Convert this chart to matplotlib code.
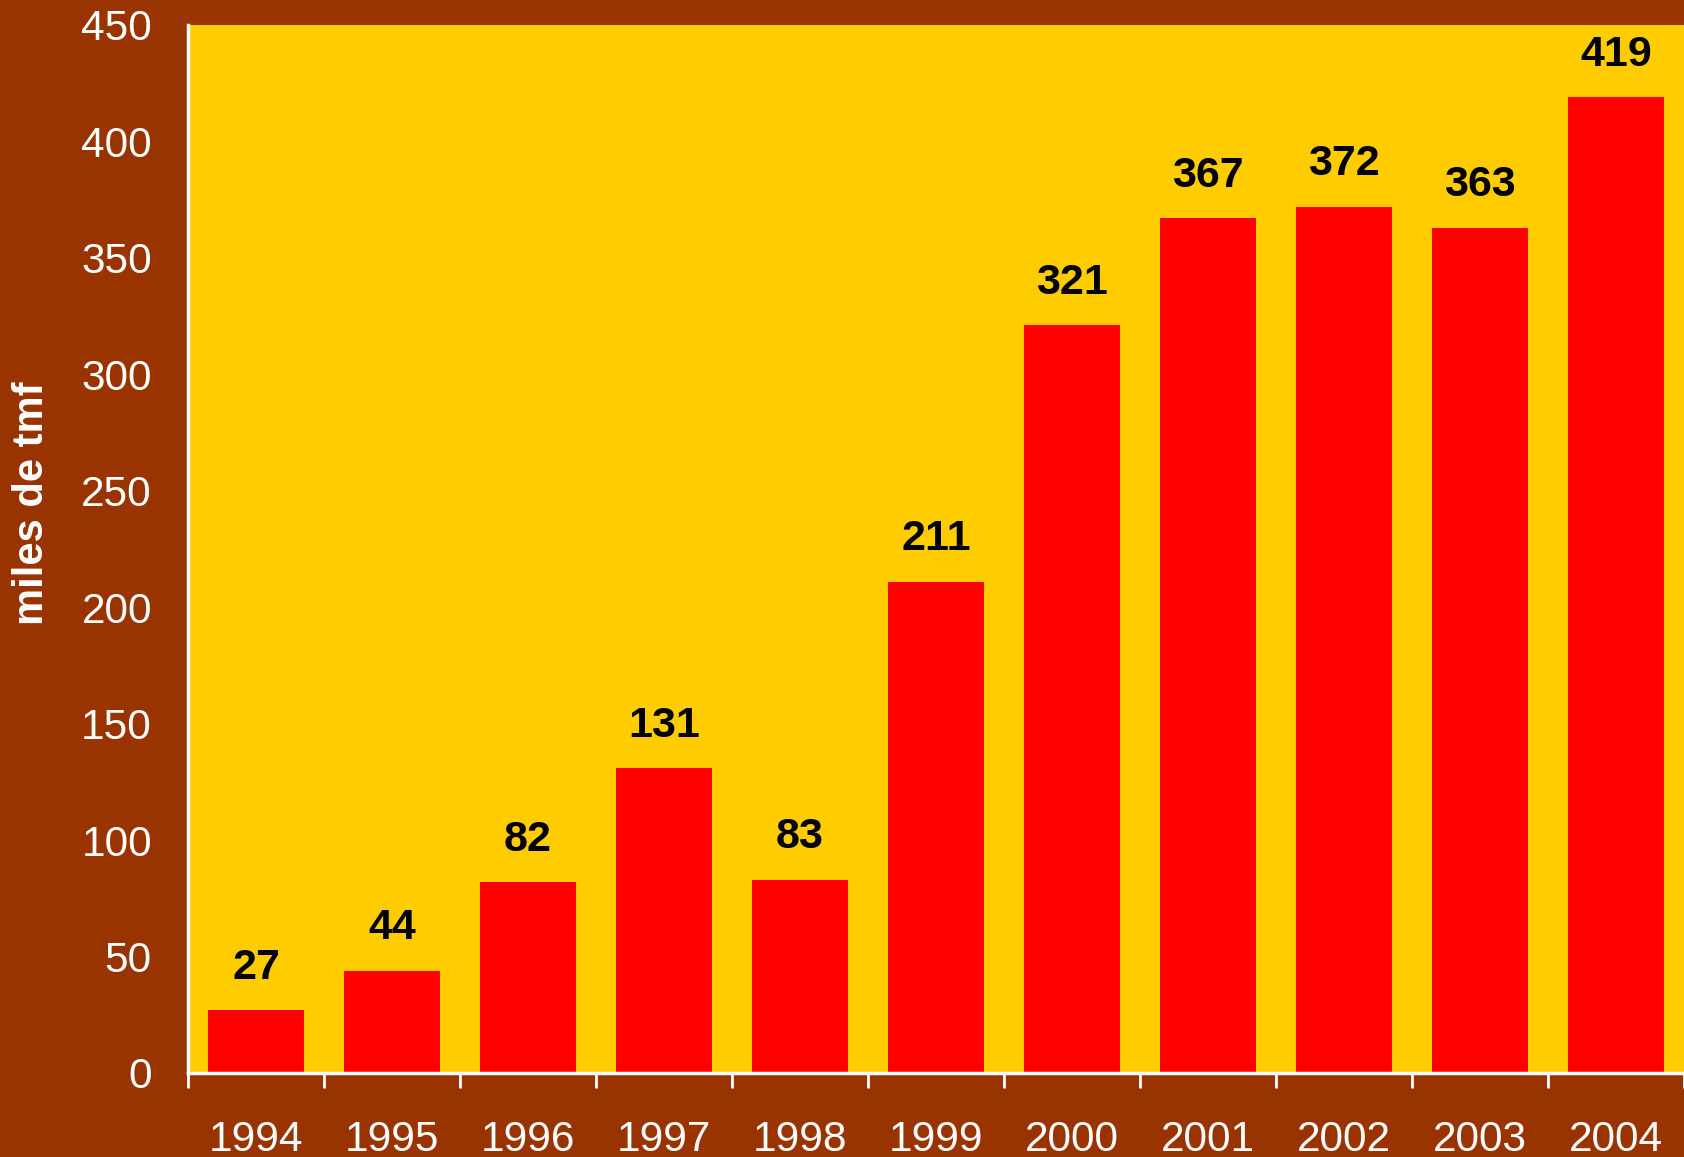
import matplotlib

matplotlib.use("Agg")
import matplotlib.pyplot as plt
import numpy as np

BROWN = "#993300"
YELLOW = "#FFCC00"
RED = "#FF0000"

years = ["1994", "1995", "1996", "1997", "1998", "1999", "2000", "2001", "2002", "2003", "2004"]
values = [27, 44, 82, 131, 83, 211, 321, 367, 372, 363, 419]
yticks = [0, 50, 100, 150, 200, 250, 300, 350, 400, 450]

plt.rcParams["font.family"] = ["Liberation Sans", "DejaVu Sans"]

fig = plt.figure(figsize=(16.84, 11.57), dpi=100, facecolor=BROWN)
ax = fig.add_axes([188 / 1684, 1 - 1073 / 1157, (1684 - 188) / 1684, (1073 - 25) / 1157])
ax.set_facecolor(YELLOW)

x = np.arange(len(years))
ax.bar(x, values, width=0.7, color=RED, zorder=2)
for xi, v in zip(x, values):
    ax.annotate(f"{v}", (xi, v), xytext=(0, 16), textcoords="offset points",
                ha="center", va="bottom", fontsize=31, fontweight="bold", color="black")

ax.set_xlim(-0.5, len(years) - 0.5)
ax.set_ylim(0, 450)
ax.set_yticks(yticks)
ax.set_yticklabels([str(t) for t in yticks], fontsize=30.5, color="white")
ax.tick_params(axis="y", length=0, pad=26)

# ticks at category boundaries, labels in the middle
ax.set_xticks(np.arange(len(years) + 1) - 0.5)
ax.set_xticklabels([])
ax.set_xticks(x, minor=True)
ax.set_xticklabels(years, minor=True, fontsize=30.5, color="white")
ax.tick_params(axis="x", which="major", direction="out", length=11, width=2, colors="white")
ax.tick_params(axis="x", which="minor", length=0, pad=34)

for s in ("top", "right"):
    ax.spines[s].set_visible(False)
for s in ("left", "bottom"):
    ax.spines[s].set_color("white")
    ax.spines[s].set_linewidth(2.5)

fig.text(32 / 1684, 1 - 503 / 1157, "miles de tmf", rotation=90, ha="center", va="center",
         fontsize=30, fontweight="bold", color="white")

fig.savefig("out.png", dpi=100, facecolor=BROWN)
